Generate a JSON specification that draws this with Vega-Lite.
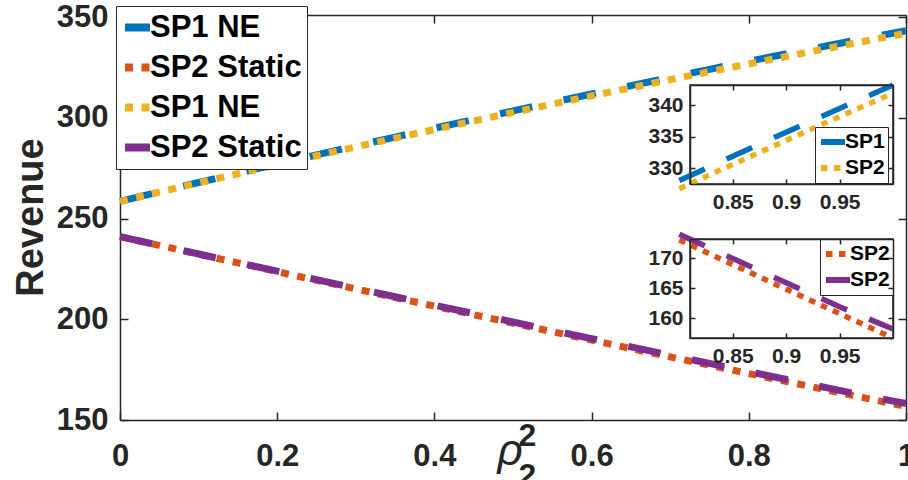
{
  "$schema": "https://vega.github.io/schema/vega-lite/v6.json",
  "width": 786,
  "height": 405,
  "autosize": {"type": "none"},
  "padding": {"left": 120, "top": 15, "right": 2, "bottom": 60},
  "background": "white",
  "config": {
    "view": {"stroke": null},
    "font": "Liberation Sans",
    "axis": {"domainColor": "#262626", "tickColor": "#262626", "labelColor": "#262626", "titleColor": "#262626", "domainWidth": 1.5, "tickWidth": 1.5, "grid": false, "labelFont": "Liberation Sans", "titleFont": "Liberation Sans", "labelFontWeight": "bold", "titleFontWeight": "bold", "labelFlush": false, "labelOverlap": false}
  },
  "data": {"values": [
    {"x":0,"series":"SP1 NE (1)","revenue":258.5},{"x":0.05,"series":"SP1 NE (1)","revenue":263.21},{"x":0.1,"series":"SP1 NE (1)","revenue":267.86},{"x":0.15,"series":"SP1 NE (1)","revenue":272.47},{"x":0.2,"series":"SP1 NE (1)","revenue":277.04},{"x":0.25,"series":"SP1 NE (1)","revenue":281.55},{"x":0.3,"series":"SP1 NE (1)","revenue":286.02},{"x":0.35,"series":"SP1 NE (1)","revenue":290.43},{"x":0.4,"series":"SP1 NE (1)","revenue":294.8},{"x":0.45,"series":"SP1 NE (1)","revenue":299.13},{"x":0.5,"series":"SP1 NE (1)","revenue":303.4},{"x":0.55,"series":"SP1 NE (1)","revenue":307.63},{"x":0.6,"series":"SP1 NE (1)","revenue":311.8},{"x":0.65,"series":"SP1 NE (1)","revenue":315.93},{"x":0.7,"series":"SP1 NE (1)","revenue":320.0},{"x":0.75,"series":"SP1 NE (1)","revenue":324.05},{"x":0.8,"series":"SP1 NE (1)","revenue":328.06},{"x":0.85,"series":"SP1 NE (1)","revenue":331.91},{"x":0.9,"series":"SP1 NE (1)","revenue":335.72},{"x":0.95,"series":"SP1 NE (1)","revenue":339.49},{"x":1,"series":"SP1 NE (1)","revenue":343.2},
    {"x":0,"series":"SP2 Static (1)","revenue":241},{"x":0.05,"series":"SP2 Static (1)","revenue":236.63},{"x":0.1,"series":"SP2 Static (1)","revenue":232.28},{"x":0.15,"series":"SP2 Static (1)","revenue":227.95},{"x":0.2,"series":"SP2 Static (1)","revenue":223.63},{"x":0.25,"series":"SP2 Static (1)","revenue":219.33},{"x":0.3,"series":"SP2 Static (1)","revenue":215.04},{"x":0.35,"series":"SP2 Static (1)","revenue":210.77},{"x":0.4,"series":"SP2 Static (1)","revenue":206.51},{"x":0.45,"series":"SP2 Static (1)","revenue":202.27},{"x":0.5,"series":"SP2 Static (1)","revenue":198.05},{"x":0.55,"series":"SP2 Static (1)","revenue":193.84},{"x":0.6,"series":"SP2 Static (1)","revenue":189.65},{"x":0.65,"series":"SP2 Static (1)","revenue":185.48},{"x":0.7,"series":"SP2 Static (1)","revenue":181.32},{"x":0.75,"series":"SP2 Static (1)","revenue":177.18},{"x":0.8,"series":"SP2 Static (1)","revenue":173.05},{"x":0.85,"series":"SP2 Static (1)","revenue":168.94},{"x":0.9,"series":"SP2 Static (1)","revenue":164.84},{"x":0.95,"series":"SP2 Static (1)","revenue":160.76},{"x":1,"series":"SP2 Static (1)","revenue":156.7},
    {"x":0,"series":"SP1 NE (2)","revenue":258.5},{"x":0.05,"series":"SP1 NE (2)","revenue":263.13},{"x":0.1,"series":"SP1 NE (2)","revenue":267.7},{"x":0.15,"series":"SP1 NE (2)","revenue":272.23},{"x":0.2,"series":"SP1 NE (2)","revenue":276.72},{"x":0.25,"series":"SP1 NE (2)","revenue":281.15},{"x":0.3,"series":"SP1 NE (2)","revenue":285.54},{"x":0.35,"series":"SP1 NE (2)","revenue":289.87},{"x":0.4,"series":"SP1 NE (2)","revenue":294.16},{"x":0.45,"series":"SP1 NE (2)","revenue":298.41},{"x":0.5,"series":"SP1 NE (2)","revenue":302.6},{"x":0.55,"series":"SP1 NE (2)","revenue":306.75},{"x":0.6,"series":"SP1 NE (2)","revenue":310.84},{"x":0.65,"series":"SP1 NE (2)","revenue":314.89},{"x":0.7,"series":"SP1 NE (2)","revenue":318.9},{"x":0.75,"series":"SP1 NE (2)","revenue":322.85},{"x":0.8,"series":"SP1 NE (2)","revenue":326.76},{"x":0.85,"series":"SP1 NE (2)","revenue":330.61},{"x":0.9,"series":"SP1 NE (2)","revenue":334.42},{"x":0.95,"series":"SP1 NE (2)","revenue":338.19},{"x":1,"series":"SP1 NE (2)","revenue":341.9},
    {"x":0,"series":"SP2 Static (2)","revenue":241},{"x":0.05,"series":"SP2 Static (2)","revenue":236.69},{"x":0.1,"series":"SP2 Static (2)","revenue":232.4},{"x":0.15,"series":"SP2 Static (2)","revenue":228.13},{"x":0.2,"series":"SP2 Static (2)","revenue":223.87},{"x":0.25,"series":"SP2 Static (2)","revenue":219.63},{"x":0.3,"series":"SP2 Static (2)","revenue":215.4},{"x":0.35,"series":"SP2 Static (2)","revenue":211.19},{"x":0.4,"series":"SP2 Static (2)","revenue":206.99},{"x":0.45,"series":"SP2 Static (2)","revenue":202.81},{"x":0.5,"series":"SP2 Static (2)","revenue":198.65},{"x":0.55,"series":"SP2 Static (2)","revenue":194.5},{"x":0.6,"series":"SP2 Static (2)","revenue":190.37},{"x":0.65,"series":"SP2 Static (2)","revenue":186.26},{"x":0.7,"series":"SP2 Static (2)","revenue":182.16},{"x":0.75,"series":"SP2 Static (2)","revenue":178.08},{"x":0.8,"series":"SP2 Static (2)","revenue":174.01},{"x":0.85,"series":"SP2 Static (2)","revenue":169.96},{"x":0.9,"series":"SP2 Static (2)","revenue":165.92},{"x":0.95,"series":"SP2 Static (2)","revenue":161.9},{"x":1,"series":"SP2 Static (2)","revenue":158.2}
  ]},
  "layer": [
    {
      "layer": [
        {
          "mark": {"type": "line", "strokeWidth": 7, "strokeCap": "butt"},
          "encoding": {
            "x": {"field": "x", "type": "quantitative", "scale": {"domain": [0, 1], "nice": false, "zero": false},
              "axis": {"orient": "bottom", "values": [0, 0.2, 0.4, 0.6, 0.8, 1], "format": "~g", "tickSize": -8, "labelPadding": 29, "labelFontSize": 31,
                "title": "ρ", "titleFontSize": 44, "titleFontStyle": "italic", "titleFontWeight": "normal", "titleAlign": "left", "titleBaseline": "alphabetic", "titleX": 377, "titleY": 44}},
            "y": {"field": "revenue", "type": "quantitative", "scale": {"domain": [150, 351], "nice": false, "zero": false},
              "axis": {"orient": "left", "values": [150, 200, 250, 300, 350], "tickSize": -8, "labelPadding": 20, "labelFontSize": 31,
                "title": "Revenue", "titleFontSize": 38, "titleX": -78, "titleY": 202, "titleAngle": -90, "titleBaseline": "alphabetic", "titleAlign": "center"}},
            "color": {"field": "series", "type": "nominal",
              "scale": {"domain": ["SP1 NE (1)", "SP2 Static (1)", "SP1 NE (2)", "SP2 Static (2)"], "range": ["#0072BD", "#D95319", "#EDB120", "#7E2F8E"]},
              "legend": {"orient": "none", "legendX": -4, "legendY": -9, "title": null, "labelExpr": "split(datum.label, ' (')[0]", "symbolType": "stroke", "symbolSize": 625, "symbolStrokeWidth": 8, "labelFontSize": 31, "labelFontWeight": "bold", "labelColor": "black", "labelFont": "Liberation Sans", "rowPadding": 7, "padding": 5, "strokeColor": "#262626", "fillColor": "white", "labelOffset": -4}},
            "strokeDash": {"field": "series", "type": "nominal",
              "scale": {"domain": ["SP1 NE (1)", "SP2 Static (1)", "SP1 NE (2)", "SP2 Static (2)"], "range": [[33, 32], [8, 8.5], [8, 8.5], [33, 32]]},
              "legend": {"orient": "none", "legendX": -4, "legendY": -9, "title": null, "labelExpr": "split(datum.label, ' (')[0]", "symbolType": "stroke", "symbolSize": 625, "symbolStrokeWidth": 8, "labelFontSize": 31, "labelFontWeight": "bold", "labelColor": "black", "labelFont": "Liberation Sans", "rowPadding": 7, "padding": 5, "strokeColor": "#262626", "fillColor": "white", "labelOffset": -4}}
          }
        },
        {
          "mark": {"type": "point", "opacity": 0},
          "encoding": {
            "x": {"field": "x", "type": "quantitative", "scale": {"domain": [0, 1], "nice": false, "zero": false},
              "axis": {"orient": "top", "values": [0, 0.2, 0.4, 0.6, 0.8, 1], "labels": false, "tickSize": -8,
                "title": ["2", "2"], "titleFontSize": 32, "titleLineHeight": 40, "titleAlign": "left", "titleBaseline": "top", "titleX": 398, "titleY": 405}},
            "y": {"field": "revenue", "type": "quantitative", "scale": {"domain": [150, 351], "nice": false, "zero": false},
              "axis": {"orient": "right", "values": [150, 200, 250, 300, 350], "labels": false, "tickSize": -8, "title": null}}
          }
        }
      ],
      "resolve": {"axis": {"x": "independent", "y": "independent"}}
    },
    {
      "layer": [
        {
          "data": {"values": [{}]},
          "mark": {"type": "rect", "fill": "white", "stroke": "#262626", "strokeWidth": 1.5},
          "encoding": {
            "x": {"datum": 0.81, "type": "quantitative", "scale": {"domain": [0.81, 1], "range": [570, 773], "nice": false, "zero": false},
              "axis": {"orient": "top", "offset": -70, "values": [0.85, 0.9, 0.95], "labels": false, "tickSize": -5, "title": null, "zindex": 1}},
            "x2": {"datum": 1},
            "y": {"datum": 327.5, "type": "quantitative", "scale": {"domain": [327.5, 343.2], "range": [169, 70], "nice": false, "zero": false},
              "axis": {"orient": "right", "offset": -13, "values": [330, 335, 340], "labels": false, "tickSize": -5, "title": null, "zindex": 1}},
            "y2": {"datum": 343.2}
          }
        },
        {
          "transform": [{"filter": {"field": "series", "oneOf": ["SP1 NE (1)", "SP1 NE (2)"]}}, {"filter": "datum.x >= 0.8"}],
          "mark": {"type": "line", "strokeWidth": 5.5, "strokeCap": "butt", "clip": true},
          "encoding": {
            "x": {"field": "x", "type": "quantitative", "scale": {"domain": [0.81, 1], "range": [570, 773], "nice": false, "zero": false},
              "axis": {"orient": "bottom", "offset": -236, "values": [0.85, 0.9, 0.95], "format": "~g", "tickSize": -5, "labelPadding": 12, "labelFontSize": 21, "title": null, "zindex": 1}},
            "y": {"field": "revenue", "type": "quantitative", "scale": {"domain": [327.5, 343.2], "range": [169, 70], "nice": false, "zero": false},
              "axis": {"orient": "left", "offset": -570, "values": [330, 335, 340], "tickSize": -5, "labelPadding": 12, "labelFontSize": 21, "title": null, "zindex": 1}},
            "color": {"field": "series", "type": "nominal",
              "scale": {"domain": ["SP1 NE (1)", "SP1 NE (2)"], "range": ["#0072BD", "#EDB120"]},
              "legend": {"orient": "none", "legendX": 695, "legendY": 112, "title": null, "labelExpr": "datum.label == 'SP1 NE (1)' ? 'SP1' : 'SP2'", "symbolType": "stroke", "symbolSize": 576, "symbolStrokeWidth": 6, "labelFontSize": 21, "labelFontWeight": "bold", "labelColor": "black", "labelFont": "Liberation Sans", "rowPadding": 2, "clipHeight": 24, "padding": 3, "strokeColor": "#262626", "fillColor": "white", "labelOffset": -3}},
            "strokeDash": {"field": "series", "type": "nominal",
              "scale": {"domain": ["SP1 NE (1)", "SP1 NE (2)"], "range": [[28, 24], [6.5, 6.5]]},
              "legend": {"orient": "none", "legendX": 695, "legendY": 112, "title": null, "labelExpr": "datum.label == 'SP1 NE (1)' ? 'SP1' : 'SP2'", "symbolType": "stroke", "symbolSize": 576, "symbolStrokeWidth": 6, "labelFontSize": 21, "labelFontWeight": "bold", "labelColor": "black", "labelFont": "Liberation Sans", "rowPadding": 2, "clipHeight": 24, "padding": 3, "strokeColor": "#262626", "fillColor": "white", "labelOffset": -3}}
          }
        }
      ],
      "resolve": {"axis": {"x": "independent", "y": "independent"}}
    },
    {
      "layer": [
        {
          "data": {"values": [{}]},
          "mark": {"type": "rect", "fill": "white", "stroke": "#262626", "strokeWidth": 1.5},
          "encoding": {
            "x": {"datum": 0.81, "type": "quantitative", "scale": {"domain": [0.81, 1], "range": [570, 773], "nice": false, "zero": false},
              "axis": {"orient": "top", "offset": -224, "values": [0.85, 0.9, 0.95], "labels": false, "tickSize": -5, "title": null, "zindex": 1}},
            "x2": {"datum": 1},
            "y": {"datum": 156.7, "type": "quantitative", "scale": {"domain": [156.7, 173.2], "range": [323, 224], "nice": false, "zero": false},
              "axis": {"orient": "right", "offset": -13, "values": [160, 165, 170], "labels": false, "tickSize": -5, "title": null, "zindex": 1}},
            "y2": {"datum": 173.2}
          }
        },
        {
          "transform": [{"filter": {"field": "series", "oneOf": ["SP2 Static (1)", "SP2 Static (2)"]}}, {"filter": "datum.x >= 0.8"}],
          "mark": {"type": "line", "strokeWidth": 5.5, "strokeCap": "butt", "clip": true},
          "encoding": {
            "x": {"field": "x", "type": "quantitative", "scale": {"domain": [0.81, 1], "range": [570, 773], "nice": false, "zero": false},
              "axis": {"orient": "bottom", "offset": -82, "values": [0.85, 0.9, 0.95], "format": "~g", "tickSize": -5, "labelPadding": 12, "labelFontSize": 21, "title": null, "zindex": 1}},
            "y": {"field": "revenue", "type": "quantitative", "scale": {"domain": [156.7, 173.2], "range": [323, 224], "nice": false, "zero": false},
              "axis": {"orient": "left", "offset": -570, "values": [160, 165, 170], "tickSize": -5, "labelPadding": 12, "labelFontSize": 21, "title": null, "zindex": 1}},
            "color": {"field": "series", "type": "nominal",
              "scale": {"domain": ["SP2 Static (1)", "SP2 Static (2)"], "range": ["#D95319", "#7E2F8E"]},
              "legend": {"orient": "none", "legendX": 700, "legendY": 224, "title": null, "labelExpr": "'SP2'", "symbolType": "stroke", "symbolSize": 576, "symbolStrokeWidth": 6, "labelFontSize": 21, "labelFontWeight": "bold", "labelColor": "black", "labelFont": "Liberation Sans", "rowPadding": 2, "clipHeight": 24, "padding": 3, "strokeColor": "#262626", "fillColor": "white", "labelOffset": -3}},
            "strokeDash": {"field": "series", "type": "nominal",
              "scale": {"domain": ["SP2 Static (1)", "SP2 Static (2)"], "range": [[6.5, 6.5], [28, 24]]},
              "legend": {"orient": "none", "legendX": 700, "legendY": 224, "title": null, "labelExpr": "'SP2'", "symbolType": "stroke", "symbolSize": 576, "symbolStrokeWidth": 6, "labelFontSize": 21, "labelFontWeight": "bold", "labelColor": "black", "labelFont": "Liberation Sans", "rowPadding": 2, "clipHeight": 24, "padding": 3, "strokeColor": "#262626", "fillColor": "white", "labelOffset": -3}}
          }
        }
      ],
      "resolve": {"axis": {"x": "independent", "y": "independent"}}
    }
  ],
  "resolve": {
    "scale": {"x": "independent", "y": "independent", "color": "independent", "strokeDash": "independent"},
    "axis": {"x": "independent", "y": "independent"},
    "legend": {"color": "independent", "strokeDash": "independent"}
  }
}
